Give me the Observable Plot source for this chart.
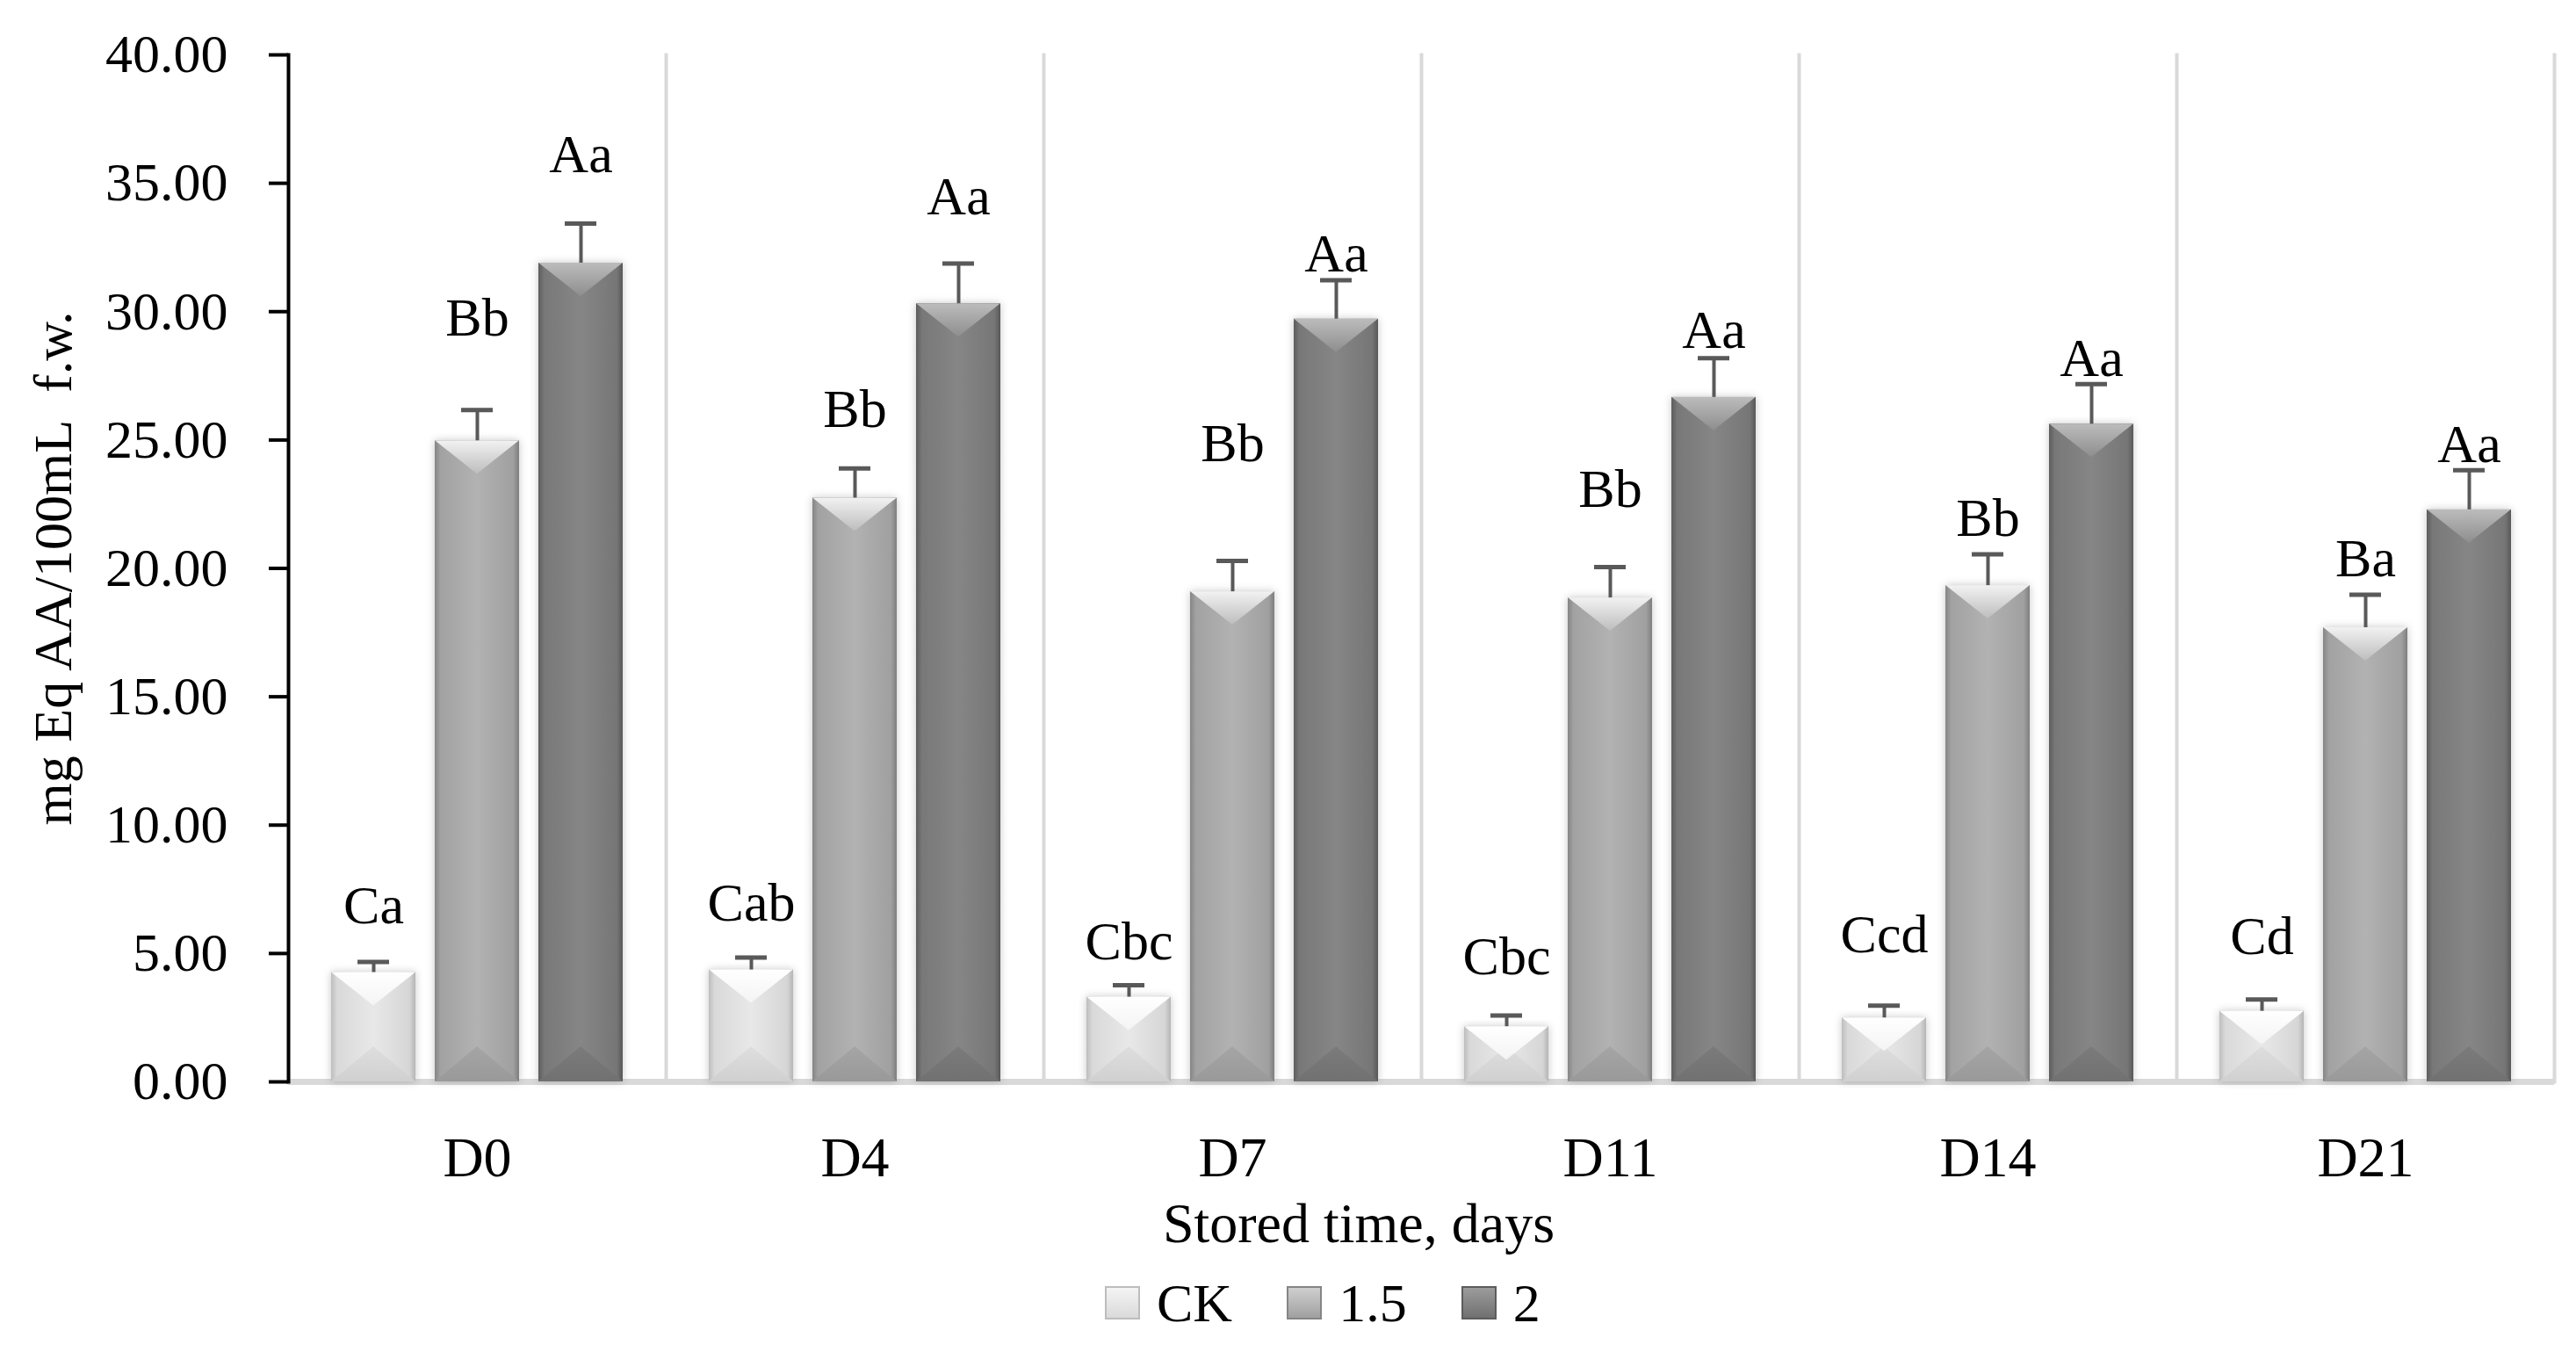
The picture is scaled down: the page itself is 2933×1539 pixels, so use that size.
<!DOCTYPE html>
<html>
<head>
<meta charset="utf-8">
<script src="https://cdn.jsdelivr.net/npm/d3@7"></script>
<script src="https://cdn.jsdelivr.net/npm/@observablehq/plot@0.6"></script>
<style>
  html, body { margin: 0; padding: 0; background: #fff; }
  #wrap { position: relative; width: 2933px; height: 1539px; background: #fff; font-family: "Liberation Serif", serif; color: #000; }
  #xtitle { position: absolute; left: 1547px; top: 1361px; transform: translateX(-50%); font-size: 64px; line-height: 64px; white-space: nowrap; }
  #legend { position: absolute; left: 1258px; top: 1452px; display: flex; align-items: center; font-size: 62px; line-height: 62px; }
  #legend .sw { width: 40px; height: 38px; margin-right: 19px; box-sizing: border-box; }
  #legend .lab { margin-right: 62px; }
</style>
</head>
<body>
<div id="wrap">
  <div id="chart"></div>
  <div id="xtitle">Stored time, days</div>
  <div id="legend"></div>
</div>
<script>
// ---- data ----
const days = ["D0", "D4", "D7", "D11", "D14", "D21"];
const series = ["CK", "1.5", "2"];

const ckValues  = [4.26, 4.36, 3.30, 2.15, 2.49, 2.75];
const ckErrors  = [0.41, 0.48, 0.46, 0.43, 0.48, 0.46];
const ckLetters = ["Ca", "Cab", "Cbc", "Cbc", "Ccd", "Cd"];
const ckLabelAt = [6.16, 6.28, 4.79, 4.19, 5.03, 4.99];

const s15Values  = [24.97, 22.74, 19.09, 18.85, 19.33, 17.69];
const s15Errors  = [1.20, 1.15, 1.20, 1.20, 1.22, 1.28];
const s15Letters = ["Bb", "Bb", "Bb", "Bb", "Bb", "Ba"];
const s15LabelAt = [29.06, 25.50, 24.18, 22.38, 21.25, 19.69];

const s2Values  = [31.89, 30.31, 29.71, 26.66, 25.62, 22.28];
const s2Errors  = [1.54, 1.56, 1.51, 1.53, 1.56, 1.54];
const s2Letters = ["Aa", "Aa", "Aa", "Aa", "Aa", "Aa"];
const s2LabelAt = [35.42, 33.79, 31.58, 28.58, 27.50, 24.13];

const yTicks = [0, 5, 10, 15, 20, 25, 30, 35, 40];
const yLabel = "mg Eq AA/100mL\u00a0\u00a0f.w.";

// ---- table ----
const bySeries = {
  "CK":  {v: ckValues,  e: ckErrors,  l: ckLetters,  at: ckLabelAt},
  "1.5": {v: s15Values, e: s15Errors, l: s15Letters, at: s15LabelAt},
  "2":   {v: s2Values,  e: s2Errors,  l: s2Letters,  at: s2LabelAt}
};
const table = days.flatMap((day, i) => series.map(s => ({
  day, series: s,
  value: bySeries[s].v[i],
  hi: bySeries[s].v[i] + bySeries[s].e[i],
  letter: bySeries[s].l[i],
  labelAt: bySeries[s].at[i]
})));

const ids = {"CK": "ck", "1.5": "s15", "2": "s2"};

const seriesMarks = series.flatMap(s => {
  const rows = table.filter(d => d.series === s);
  const id = ids[s];
  return [
    Plot.barY(rows, {fx: "day", x: "series", y1: 0, y2: "value", fill: `url(#face-${id})`}),
    Plot.barY(rows, {fx: "day", x: "series", y1: 0, y2: 0, insetTop: -40, fill: `url(#bot-${id})`}),
    Plot.barY(rows, {fx: "day", x: "series", y1: "value", y2: "value", insetBottom: -38, fill: `url(#top-${id})`})
  ];
});

const chart = Plot.plot({
  width: 2933,
  height: 1360,
  marginLeft: 327,
  marginRight: 24,
  marginTop: 62,
  marginBottom: 129,
  style: {fontFamily: "'Liberation Serif', serif", fontSize: "62px", background: "white", color: "black"},
  fx: {domain: days, padding: 0},
  x: {domain: series, paddingInner: 0.1864, paddingOuter: 0.415, axis: null},
  y: {domain: [0, 40]},
  marks: [
    Plot.frame({anchor: "right", stroke: "#d9d9d9", strokeWidth: 4}),
    Plot.ruleY([0], {stroke: "#d9d9d9", strokeWidth: 7}),
    ...seriesMarks,
    Plot.ruleX(table, {fx: "day", x: "series", y1: "value", y2: "hi", stroke: "#595959", strokeWidth: 4}),
    Plot.tickY(table, {fx: "day", x: "series", y: "hi", stroke: "#595959", strokeWidth: 5, insetLeft: 30, insetRight: 30}),
    Plot.text(table, {fx: "day", x: "series", y: "labelAt", text: "letter", lineAnchor: "bottom", fontSize: 62, fill: "black"}),
    Plot.axisY({ticks: yTicks, tickFormat: d => d.toFixed(2), tickSize: 22, tickPadding: 47, strokeWidth: 4, fontSize: 62,
      label: yLabel, labelAnchor: "center", labelOffset: 292, labelArrow: "none"}),
    Plot.frame({anchor: "left", facetAnchor: "left", stroke: "black", strokeWidth: 4}),
    Plot.axisFx({anchor: "bottom", tickSize: 0, tickPadding: 62, fontSize: 64, label: null})
  ]
});

// defs: gradients, clip triangles, shadow
const defsHTML = `
  <linearGradient id="face-ck" x1="0" x2="1" y1="0" y2="0">
    <stop offset="0" stop-color="#bdbdbd"/><stop offset="0.07" stop-color="#d9d9d9"/>
    <stop offset="0.5" stop-color="#e8e8e8"/><stop offset="0.93" stop-color="#d6d6d6"/><stop offset="1" stop-color="#b5b5b5"/>
  </linearGradient>
  <linearGradient id="face-s15" x1="0" x2="1" y1="0" y2="0">
    <stop offset="0" stop-color="#858585"/><stop offset="0.07" stop-color="#a2a2a2"/>
    <stop offset="0.5" stop-color="#b2b2b2"/><stop offset="0.93" stop-color="#a0a0a0"/><stop offset="1" stop-color="#7e7e7e"/>
  </linearGradient>
  <linearGradient id="face-s2" x1="0" x2="1" y1="0" y2="0">
    <stop offset="0" stop-color="#5c5c5c"/><stop offset="0.07" stop-color="#787878"/>
    <stop offset="0.5" stop-color="#868686"/><stop offset="0.93" stop-color="#767676"/><stop offset="1" stop-color="#575757"/>
  </linearGradient>
  <linearGradient id="top-ck" x1="0" x2="0" y1="0" y2="1">
    <stop offset="0" stop-color="#ffffff"/><stop offset="1" stop-color="#f4f4f4"/>
  </linearGradient>
  <linearGradient id="top-s15" x1="0" x2="0" y1="0" y2="1">
    <stop offset="0" stop-color="#f2f2f2"/><stop offset="1" stop-color="#bdbdbd"/>
  </linearGradient>
  <linearGradient id="top-s2" x1="0" x2="0" y1="0" y2="1">
    <stop offset="0" stop-color="#bcbcbc"/><stop offset="1" stop-color="#8e8e8e"/>
  </linearGradient>
  <linearGradient id="bot-ck" x1="0" x2="0" y1="0" y2="1">
    <stop offset="0" stop-color="#dedede"/><stop offset="1" stop-color="#d0d0d0"/>
  </linearGradient>
  <linearGradient id="bot-s15" x1="0" x2="0" y1="0" y2="1">
    <stop offset="0" stop-color="#a5a5a5"/><stop offset="1" stop-color="#999999"/>
  </linearGradient>
  <linearGradient id="bot-s2" x1="0" x2="0" y1="0" y2="1">
    <stop offset="0" stop-color="#7b7b7b"/><stop offset="1" stop-color="#717171"/>
  </linearGradient>
  <clipPath id="tri-down" clipPathUnits="objectBoundingBox"><polygon points="0,0 1,0 0.5,1"/></clipPath>
  <clipPath id="tri-up" clipPathUnits="objectBoundingBox"><polygon points="0,1 1,1 0.5,0"/></clipPath>
  <filter id="shadow" x="-30%" y="-10%" width="160%" height="120%">
    <feDropShadow dx="0" dy="0" stdDeviation="5" flood-color="#000" flood-opacity="0.22"/>
  </filter>`;
const defs = document.createElementNS("http://www.w3.org/2000/svg", "defs");
defs.innerHTML = defsHTML;
chart.insertBefore(defs, chart.firstChild);

const sel = d3.select(chart);
sel.selectAll('g[fill^="url(#face-"] rect').attr("filter", "url(#shadow)");
sel.selectAll('g[fill^="url(#top-"] rect').attr("clip-path", "url(#tri-down)");
sel.selectAll('g[fill^="url(#bot-"] rect').attr("clip-path", "url(#tri-up)");

document.getElementById("chart").appendChild(chart);

// legend
const legendSwatch = {
  "CK": "linear-gradient(to bottom, #f4f4f4 0%, #dadada 100%)",
  "1.5": "linear-gradient(to bottom, #cfcfcf 0%, #a0a0a0 100%)",
  "2": "linear-gradient(to bottom, #9c9c9c 0%, #707070 100%)"
};
const legendBorder = {"CK": "#bdbdbd", "1.5": "#858585", "2": "#5c5c5c"};
const legend = d3.select("#legend");
series.forEach(s => {
  legend.append("div").attr("class", "sw")
    .style("background", legendSwatch[s])
    .style("border", `2px solid ${legendBorder[s]}`);
  legend.append("div").attr("class", "lab").text(s);
});
</script>
</body>
</html>
